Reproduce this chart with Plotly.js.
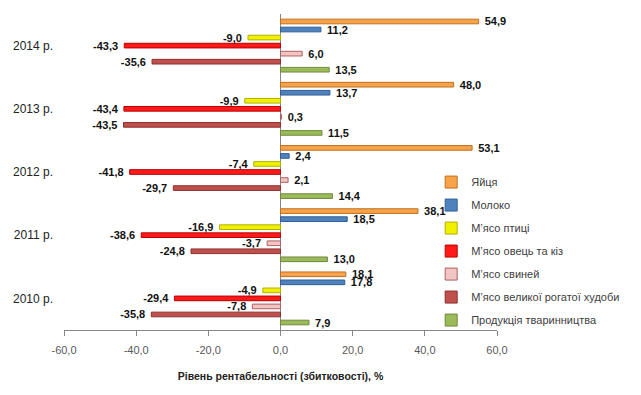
<!DOCTYPE html>
<html>
<head>
<meta charset="utf-8">
<script src="https://cdn.plot.ly/plotly-3.0.1.min.js"></script>
<style>html,body{margin:0;padding:0;background:#fff;}#chart{width:641px;height:395px;}</style>
</head>
<body>
<div id="chart"></div>
<script>
const years = ['2010 р.', '2011 р.', '2012 р.', '2013 р.', '2014 р.'];
const seriesNames = ['Продукція тваринництва', 'М’ясо великої рогатої худоби', 'М’ясо свиней', 'М’ясо овець та кіз', 'М’ясо птиці', 'Молоко', 'Яйця'];
const produktsiia = [7.9, 13.0, 14.4, 11.5, 13.5];
const miasoVRKh = [-35.8, -24.8, -29.7, -43.5, -35.6];
const miasoSvynei = [-7.8, -3.7, 2.1, 0.3, 6.0];
const miasoOvets = [-29.4, -38.6, -41.8, -43.4, -43.3];
const miasoPtytsi = [-4.9, -16.9, -7.4, -9.9, -9.0];
const moloko = [17.8, 18.5, 2.4, 13.7, 11.2];
const yaitsia = [18.1, 38.1, 53.1, 48.0, 54.9];
const seriesValues = [produktsiia, miasoVRKh, miasoSvynei, miasoOvets, miasoPtytsi, moloko, yaitsia];
const fills = ['#9bbb59', '#c0504d', '#f2c4c4', '#ff1a1a', '#f0f000', '#4f81bd', '#f7a34a'];
const edges = ['#71893f', '#8c2f2c', '#b06060', '#b80000', '#b0b000', '#2f5f94', '#c07020'];

function fmt(v) {
  const s = v.toFixed(1).replace('.', ',');
  return v >= 0 ? '\u00a0\u00a0' + s : s + '\u00a0\u00a0';
}

const traces = seriesNames.map((name, i) => ({
  type: 'bar',
  orientation: 'h',
  name: name,
  legendgroup: 'g' + i,
  legendrank: 100 - i,
  y: years,
  x: seriesValues[i],
  text: seriesValues[i].map(fmt),
  textposition: 'outside',
  textangle: 0,
  constraintext: 'none',
  cliponaxis: false,
  textfont: {family: 'Liberation Sans, Arial, sans-serif', size: 11, color: '#111', weight: 'bold'},
  marker: {color: fills[i], line: {color: edges[i], width: 1}},
  hoverinfo: 'x+name'
}));

const layout = {
  width: 641, height: 395,
  margin: {l: 64, r: 144, t: 14, b: 65},
  paper_bgcolor: '#fff', plot_bgcolor: '#fff',
  barmode: 'group',
  bargap: 0.11,
  bargroupgap: 0.42,
  showlegend: true,
  font: {family: 'Liberation Sans, Arial, sans-serif', size: 11, color: '#404040'},
  xaxis: {
    range: [-60, 60],
    tickvals: [-60, -40, -20, 0, 20, 40, 60],
    ticktext: ['-60,0', '-40,0', '-20,0', '0,0', '20,0', '40,0', '60,0'],
    showgrid: false,
    zeroline: true, zerolinecolor: '#868686', zerolinewidth: 1,
    showline: true, linecolor: '#868686', linewidth: 1,
    ticks: 'outside', ticklen: 5, tickcolor: '#868686',
    ticklabelstandoff: 5,
    tickfont: {size: 11, color: '#595959'},
    title: {text: 'Рівень рентабельності (збитковості), %', font: {size: 10.5, color: '#222', weight: 'bold'}, standoff: 17},
    fixedrange: true
  },
  yaxis: {
    type: 'category', categoryorder: 'array', categoryarray: years,
    showgrid: false, zeroline: false, showline: false, ticks: '',
    ticklabelstandoff: 10,
    tickfont: {size: 12, color: '#222'},
    fixedrange: true
  },
  legend: {
    x: 0.848, xanchor: 'left', y: 0.514, yanchor: 'top',
    traceorder: 'grouped',
    tracegroupgap: 4,
    font: {size: 11, color: '#404040'},
    bgcolor: 'rgba(0,0,0,0)',
    itemwidth: 30
  }
};

Plotly.newPlot('chart', traces, layout, {displayModeBar: false, staticPlot: true});
</script>
</body>
</html>
